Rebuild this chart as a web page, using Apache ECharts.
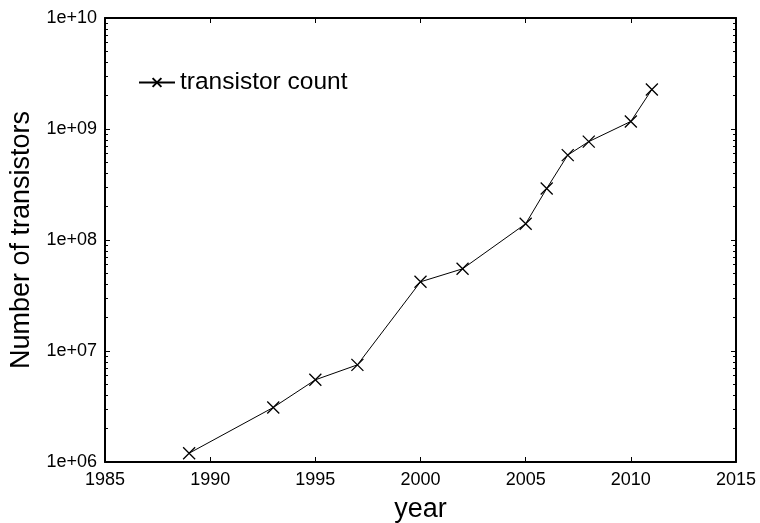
<!DOCTYPE html>
<html>
<head>
<meta charset="utf-8">
<script src="https://cdn.jsdelivr.net/npm/echarts@6/dist/echarts.min.js"></script>
<style>
  html, body { margin: 0; padding: 0; background: #fff; }
  #chart { width: 760px; height: 523px; }
</style>
</head>
<body>
<div id="chart"></div>
<script>
// Transistor counts per year (log scale)
const years = [1989, 1993, 1995, 1997, 2000, 2002, 2005, 2006, 2007, 2008, 2010, 2011];
const counts = [1.2e6, 3.1e6, 5.5e6, 7.5e6, 4.2e7, 5.5e7, 1.4e8, 2.91e8, 5.82e8, 7.7e8, 1.17e9, 2.27e9];
const seriesName = 'transistor count';
const xTicks = [1985, 1990, 1995, 2000, 2005, 2010, 2015];
const yDecades = [1e6, 1e7, 1e8, 1e9, 1e10];
const minorMultipliers = [2, 3, 4, 5, 6, 7, 8, 9];

const minorValues = [];
yDecades.slice(0, -1).forEach(d => minorMultipliers.forEach(m => minorValues.push(d * m)));

const fontFamily = 'Liberation Sans, Arial, sans-serif';
const crossPath = 'path://M0,0L10,10M0,10L10,0';

function sciLabel(v) {
  const e = Math.round(Math.log10(v));
  return '1e+' + String(e).padStart(2, '0');
}

const baseY = {
  type: 'log', logBase: 10, min: 1e6, max: 1e10,
  splitLine: { show: false }, minorTick: { show: false }
};

const chart = echarts.init(document.getElementById('chart'), null, { renderer: 'canvas' });
chart.setOption({
  animation: false,
  backgroundColor: '#fff',
  textStyle: { fontFamily },
  grid: { left: 105, right: 24, top: 18, bottom: 61, containLabel: false, outerBoundsMode: 'none' },
  legend: {
    data: [seriesName],
    left: 133, top: 65,
    itemWidth: 36, itemHeight: 11, itemGap: 11,
    textStyle: { fontSize: 24.5, color: '#000', fontFamily }
  },
  xAxis: [
    {
      type: 'value', min: 1985, max: 2015, interval: 5, position: 'bottom',
      name: 'year', nameLocation: 'middle', nameGap: 34,
      nameTextStyle: { fontSize: 27, color: '#000', fontFamily },
      axisLine: { show: true, onZero: false, lineStyle: { color: '#000', width: 2 } },
      axisTick: { show: true, inside: true, length: 5, lineStyle: { color: '#000', width: 1 } },
      axisLabel: { fontSize: 18, color: '#000', margin: 9, formatter: v => String(v), customValues: xTicks },
      splitLine: { show: false }
    },
    {
      type: 'value', min: 1985, max: 2015, interval: 5, position: 'top',
      axisLine: { show: true, onZero: false, lineStyle: { color: '#000', width: 2 } },
      axisTick: { show: true, inside: true, length: 5, lineStyle: { color: '#000', width: 1 } },
      axisLabel: { show: false },
      splitLine: { show: false }
    }
  ],
  yAxis: [
    Object.assign({}, baseY, {
      position: 'left',
      name: 'Number of transistors', nameLocation: 'middle', nameGap: 68,
      nameTextStyle: { fontSize: 27, color: '#000', fontFamily },
      axisLine: { show: true, onZero: false, lineStyle: { color: '#000', width: 2 } },
      axisTick: { show: true, inside: true, length: 5, lineStyle: { color: '#000', width: 1 }, customValues: yDecades },
      axisLabel: { fontSize: 18, color: '#000', margin: 8, formatter: sciLabel, customValues: yDecades }
    }),
    Object.assign({}, baseY, {
      position: 'left',
      axisLine: { show: false },
      axisTick: { show: true, inside: true, length: 3, lineStyle: { color: '#000', width: 1 }, customValues: minorValues },
      axisLabel: { show: false }
    }),
    Object.assign({}, baseY, {
      position: 'right',
      axisLine: { show: true, onZero: false, lineStyle: { color: '#000', width: 2 } },
      axisTick: { show: true, inside: true, length: 5, lineStyle: { color: '#000', width: 1 }, customValues: yDecades },
      axisLabel: { show: false }
    }),
    Object.assign({}, baseY, {
      position: 'right',
      axisLine: { show: false },
      axisTick: { show: true, inside: true, length: 3, lineStyle: { color: '#000', width: 1 }, customValues: minorValues },
      axisLabel: { show: false }
    })
  ],
  series: [
    {
      name: seriesName,
      type: 'line',
      xAxisIndex: 0,
      yAxisIndex: 0,
      data: years.map((y, i) => [y, counts[i]]),
      symbol: crossPath,
      symbolSize: 12,
      showAllSymbol: true,
      color: '#000',
      itemStyle: { color: '#000', borderColor: '#000', borderWidth: 1.3 },
      lineStyle: { color: '#000', width: 1 },
      emphasis: { disabled: true }
    }
  ]
});
</script>
</body>
</html>
